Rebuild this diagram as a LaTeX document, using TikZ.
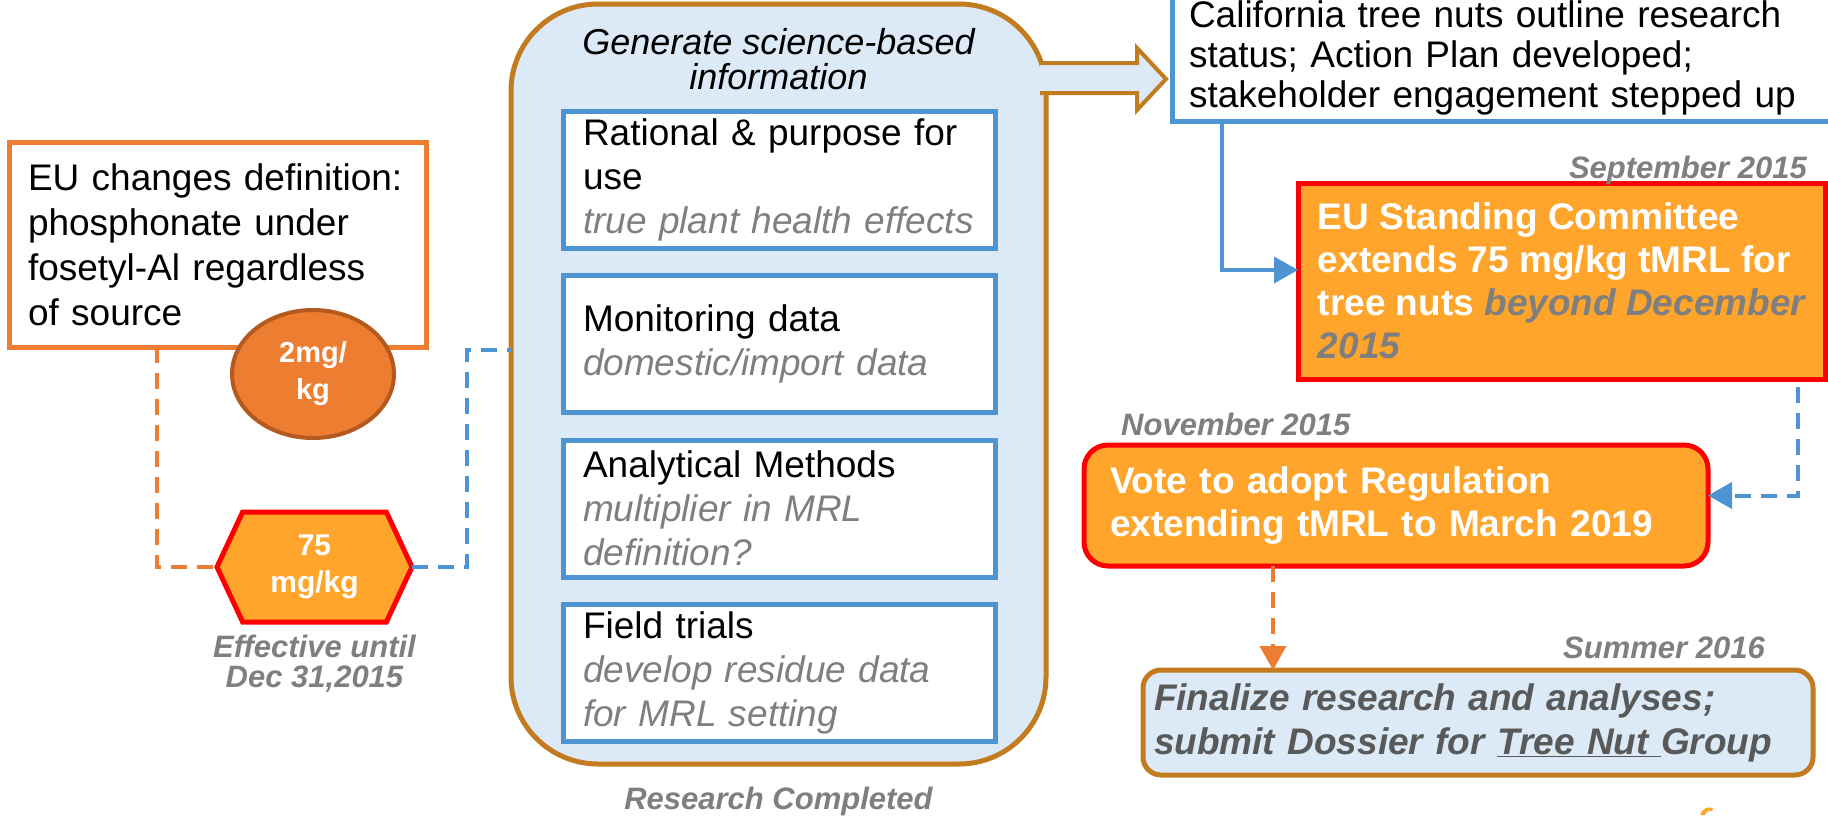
\documentclass[tikz,border=0pt]{standalone}
\usepackage{fontspec}
\setmainfont{Liberation Sans}
\usetikzlibrary{shapes, arrows.meta, positioning}

\definecolor{pptorange}{HTML}{ED7D31}
\definecolor{darkorange}{HTML}{B55A1E}
\definecolor{amber}{HTML}{FFA52B}
\definecolor{pptblue}{HTML}{4E94D3}
\definecolor{paleblue}{HTML}{DCE9F6}
\definecolor{bronze}{HTML}{C27B1F}
\definecolor{labelgray}{HTML}{7F7F7F}
\definecolor{darktext}{HTML}{595959}

\newcommand{\subnote}[1]{{\color{labelgray}\itshape #1}}

\begin{document}
\begin{tikzpicture}[x=1pt, y=-1pt,
        box/.style={draw, rectangle, line width=5pt, inner sep=0pt, outer sep=0pt, align=left},
        defbox/.style={box, draw=pptorange, fill=white, minimum width=417pt, minimum height=205pt, text width=379pt, font=\fontsize{37}{45}\selectfont},
        limitoval/.style={ellipse, draw=darkorange, line width=4pt, fill=pptorange, minimum width=162pt, minimum height=128pt, inner sep=0pt, text=white, align=center, font=\bfseries\fontsize{29}{37}\selectfont},
        tmrl/.style={signal, signal to=east and west, signal pointer angle=130, draw=red, line width=5pt, fill=amber, minimum width=195pt, minimum height=110pt, inner sep=0pt, outer sep=0pt, text=white, align=center, font=\bfseries\fontsize{30}{37}\selectfont},
        infobox/.style={draw=bronze, fill=paleblue, line width=5pt, rounded corners=87pt, minimum width=535pt, minimum height=760pt, outer sep=0pt},
        topicbox/.style={box, draw=pptblue, fill=white, minimum width=432pt, minimum height=137pt, text width=392pt, font=\fontsize{37}{44}\selectfont},
        stepbox/.style={box, draw=red, fill=amber, text=white, font=\bfseries\fontsize{37}{43}\selectfont},
        datelabel/.style={inner sep=0pt, text=labelgray, align=center, font=\bfseries\itshape\fontsize{31}{30}\selectfont},
        dashline/.style={line width=4pt, dash pattern=on 16pt off 10pt},
        arrow/.style={->, >={Triangle[length=24pt, width=26pt]}}
    ]
        \useasboundingbox (0,0) rectangle (1828,815);
        \clip (0,0) rectangle (1828,815);

        \node[defbox] (def) at (217.5,244.5) {EU changes definition:\\phosphonate under\\fosetyl-Al regardless\\of source};
        \node[limitoval] (oval) at (313,374) {2mg/\\kg};
        \node[tmrl] (hex) at (314.5,567) {75\\mg/kg};
        \node[datelabel, below=13pt of hex] (effdate) {Effective until\\Dec 31,2015};

        \node[infobox] (info) at (778.5,384) {};
        \node[font=\itshape\fontsize{36}{35}\selectfont, align=center, inner sep=0pt, below=24pt of info.north] (title) {Generate science-based\\information};
        \node[topicbox] (rational) at (779,179.5) {Rational \& purpose for\\use\\\subnote{true plant health effects}};
        \node[topicbox, below=27.5pt of rational] (monitor) {Monitoring data\\\subnote{domestic/import data}};
        \node[topicbox, below=27.5pt of monitor] (method) {Analytical Methods\\\subnote{multiplier in MRL}\\\subnote{definition?}};
        \node[topicbox, below=27.5pt of method] (field) {Field trials\\\subnote{develop residue data}\\\subnote{for MRL setting}};
        \node[datelabel, below=23pt of info] (done) {Research Completed};

        \fill[paleblue] (1040,63) -- (1137,63) -- (1137,48) -- (1166,79) -- (1137,110) -- (1137,93) -- (1040,93) -- cycle;
        \draw[bronze, line width=4pt] (1040,63) -- (1137,63) -- (1137,48) -- (1166,79) -- (1137,110) -- (1137,93) -- (1040,93);

        \node[box, draw=pptblue, fill=white, anchor=south west, minimum width=680pt, text width=646pt, inner ysep=6pt, font=\fontsize{37}{40}\selectfont] (cal) at (1172,121) {California tree nuts outline research\\status; Action Plan developed;\\stakeholder engagement stepped up};
        \node[stepbox, minimum width=527pt, minimum height=196pt] (sep) at (1561.5,281) {EU Standing Committee\\extends 75 mg/kg tMRL for\\tree nuts {\color{labelgray}\itshape beyond December}\\{\color{labelgray}\itshape 2015}};
        \node[datelabel, anchor=base east] (sepdate) at ([xshift=-18pt, yshift=5pt]sep.north east) {September 2015};
        \node[stepbox, rounded corners=24pt, minimum width=624pt, minimum height=121pt, text width=572pt] (vote) at (1396,505.5) {Vote to adopt Regulation\\extending tMRL to March 2019};
        \node[datelabel, anchor=base west] (votedate) at ([xshift=37pt, yshift=10pt]vote.north west) {November 2015};
        \node[box, rounded corners=18pt, draw=bronze, fill=paleblue, minimum width=670pt, minimum height=105pt, text width=648pt, text=darktext, font=\bfseries\itshape\fontsize{37}{44}\selectfont] (fin) at (1478,722.5) {Finalize research and analyses;\\submit Dossier for \underline{Tree Nut\ }Group};
        \node[datelabel, anchor=base east] (findate) at ([xshift=-48pt, yshift=12pt]fin.north east) {Summer 2016};

        \draw[dashline, pptorange] ([xshift=-60.5pt]def.south) |- (hex.west);
        \draw[dashline, pptblue] (hex.east) -- ++(55,0) |- ([yshift=34pt]info.west);
        \draw[arrow, pptblue, line width=4pt] ([xshift=50pt]cal.south west) |- ([yshift=11pt]sep.west);
        \draw[arrow, dashline, pptblue] ([xshift=-27pt, yshift=-8pt]sep.south east) |- ([yshift=10pt]vote.east);
        \coordinate (drop) at ([xshift=-123pt]vote.south);
        \draw[arrow, dashline, pptorange] (drop) -- (drop |- fin.north);

        \fill[amber] (1700,815) .. controls (1702,809) and (1707,806) .. (1713,808) -- (1712,811) .. controls (1708,810) and (1706,812) .. (1705,815) -- cycle;
    \end{tikzpicture}
\end{document}
